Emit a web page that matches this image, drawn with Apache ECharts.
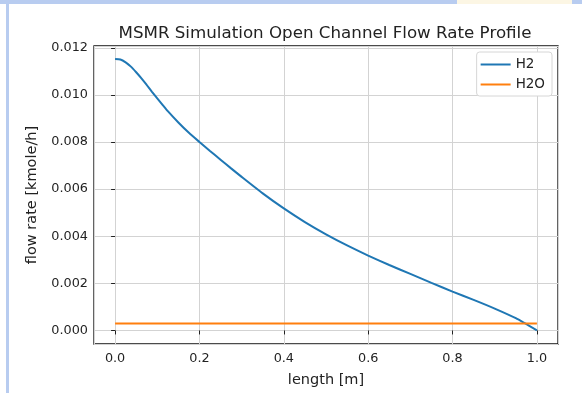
<!DOCTYPE html>
<html>
<head>
<meta charset="utf-8">
<script src="https://cdn.jsdelivr.net/npm/echarts@6/dist/echarts.min.js"></script>
<style>
  html, body { margin: 0; padding: 0; background: #fff; }
  #chart { width: 582px; height: 393px; }
</style>
</head>
<body>
<div id="chart"></div>
<script>
// positions along the channel [m]
const lengths = [0, 0.0125, 0.025, 0.0375, 0.05, 0.0625, 0.075, 0.0875, 0.1, 0.1125, 0.125, 0.15, 0.175, 0.2, 0.225, 0.25, 0.275, 0.3,
  0.35, 0.4, 0.45, 0.5, 0.55, 0.6, 0.65, 0.7, 0.75, 0.8, 0.85, 0.9, 0.95, 1.0]
// flow rates [kmole/h]
const h2 = [0.01152, 0.01150, 0.01138, 0.01120, 0.01096, 0.01070, 0.01042, 0.01013, 0.00985, 0.00958, 0.00931, 0.00883, 0.00839, 0.00800, 0.00762, 0.00725, 0.00688, 0.00652,
  0.00582, 0.00518, 0.00460, 0.00408, 0.00361, 0.00318, 0.00278, 0.00240, 0.00202, 0.00165, 0.00130, 0.00093, 0.00052, 0.00000]
const h2o = [0.0003, 0.0003, 0.0003, 0.0003, 0.0003, 0.0003, 0.0003, 0.0003, 0.0003, 0.0003, 0.0003, 0.0003, 0.0003, 0.0003, 0.0003, 0.0003, 0.0003, 0.0003,
  0.0003, 0.0003, 0.0003, 0.0003, 0.0003, 0.0003, 0.0003, 0.0003, 0.0003, 0.0003, 0.0003, 0.0003, 0.0003, 0.0003]

const font = 'DejaVu Sans'
const chart = echarts.init(document.getElementById('chart'))

const pairs = (ys) => lengths.map((x, i) => [x, ys[i]])

chart.setOption({
  backgroundColor: '#fff',
  animation: false,
  textStyle: { fontFamily: font },
  graphic: [
    { type: 'rect', shape: { x: 0, y: 0, width: 457, height: 4 }, style: { fill: '#b8ccf0' } },
    { type: 'rect', shape: { x: 457, y: 0, width: 115, height: 4 }, style: { fill: '#fcf6e4' } },
    { type: 'rect', shape: { x: 572, y: 0, width: 10, height: 4 }, style: { fill: '#b8ccf0' } },
    { type: 'rect', shape: { x: 6, y: 0, width: 3, height: 393 }, style: { fill: '#b8ccf0' } }
  ],
  title: {
    text: 'MSMR Simulation Open Channel Flow Rate Profile',
    left: 320,
    textAlign: 'center',
    top: 20,
    textStyle: { fontFamily: font, fontSize: 16.7, fontWeight: 'normal', color: '#222' }
  },
  legend: {
    orient: 'vertical',
    right: 30,
    top: 52,
    padding: [5, 7, 4, 4],
    itemGap: 5,
    itemWidth: 30,
    itemHeight: 2,
    icon: 'rect',
    borderColor: '#d6d6d6',
    borderWidth: 1,
    borderRadius: 3,
    backgroundColor: '#fff',
    textStyle: { fontFamily: font, fontSize: 13.5, color: '#222', lineHeight: 15 },
    data: ['H2', 'H2O']
  },
  grid: {
    left: 94, right: 24, top: 46, bottom: 47,
    show: true,
    borderColor: '#111',
    borderWidth: 1.3
  },
  xAxis: {
    type: 'value',
    min: -0.05,
    max: 1.05,
    splitNumber: 5,
    name: 'length [m]',
    nameLocation: 'middle',
    nameGap: 29,
    nameTextStyle: { fontFamily: font, fontSize: 14.5, color: '#222' },
    axisLine: { show: false },
    axisTick: { show: true, inside: false, length: 4, lineStyle: { color: '#222' } },
    axisLabel: {
      showMinLabel: false, showMaxLabel: false,
      margin: 8, fontFamily: font, fontSize: 12.8, color: '#222',
      formatter: (v) => v.toFixed(1)
    },
    splitLine: { show: true, lineStyle: { color: '#d3d3d3', width: 1 } }
  },
  yAxis: {
    type: 'value',
    min: -0.000575,
    max: 0.012075,
    splitNumber: 6,
    name: 'flow rate [kmole/h]',
    nameLocation: 'middle',
    nameGap: 54,
    nameTextStyle: { fontFamily: font, fontSize: 14.5, color: '#222' },
    axisLine: { show: false },
    axisTick: { show: true, inside: false, length: 4, lineStyle: { color: '#222' } },
    axisLabel: {
      showMinLabel: false, showMaxLabel: false,
      margin: 6, fontFamily: font, fontSize: 12.8, color: '#222',
      formatter: (v) => v.toFixed(3)
    },
    splitLine: { show: true, lineStyle: { color: '#d3d3d3', width: 1 } }
  },
  series: [
    {
      name: 'H2',
      type: 'line',
      data: pairs(h2),
      smooth: 0.2,
      showSymbol: false,
      color: '#1f77b4',
      lineStyle: { width: 2, color: '#1f77b4' }
    },
    {
      name: 'H2O',
      type: 'line',
      data: pairs(h2o),
      showSymbol: false,
      color: '#ff7f0e',
      lineStyle: { width: 2, color: '#ff7f0e' }
    }
  ]
})
</script>
</body>
</html>
